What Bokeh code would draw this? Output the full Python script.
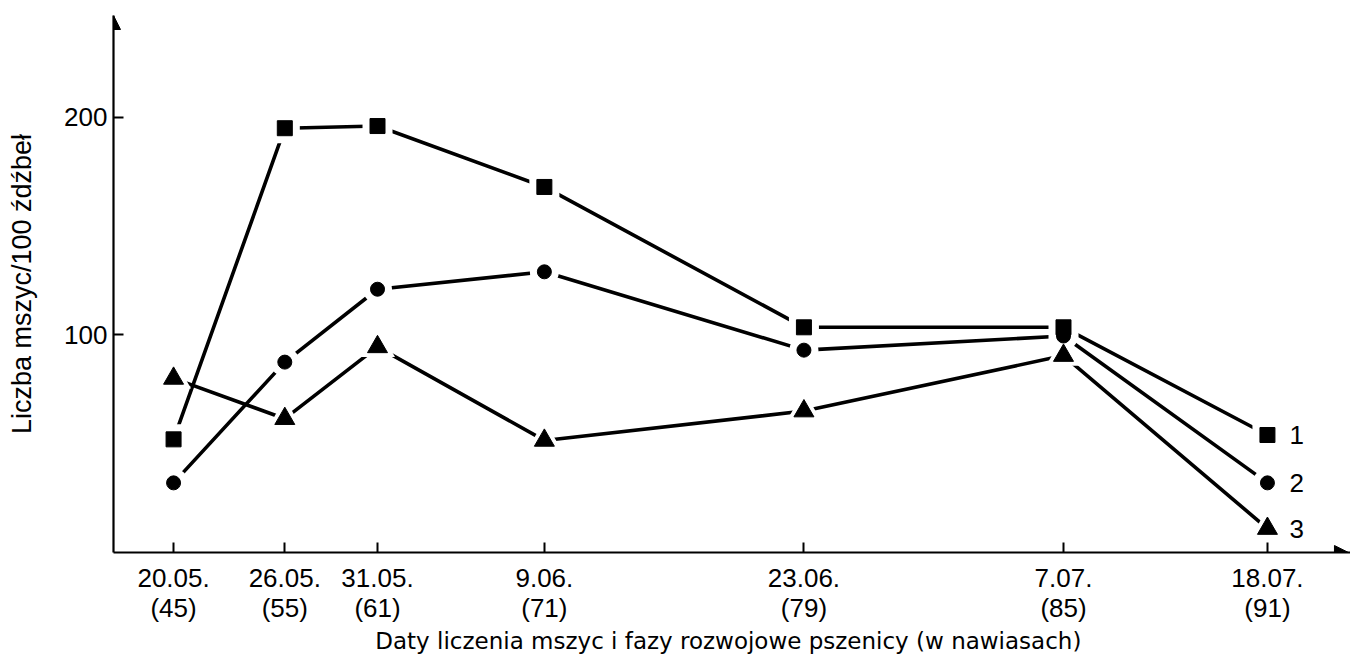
from bokeh.plotting import figure
from bokeh.models import Range1d, FixedTicker, Arrow, NormalHead
from bokeh.core.properties import value
from bokeh.embed import file_html
from bokeh.resources import INLINE

# ---- data ----
dates = ["20.05.", "26.05.", "31.05.", "9.06.", "23.06.", "7.07.", "18.07."]
phases = ["(45)", "(55)", "(61)", "(71)", "(79)", "(85)", "(91)"]
day_offset = [0, 6, 11, 20, 34, 48, 59]          # days after 20.05.
series1 = [52, 195, 196, 168, 103.5, 103.5, 54]   # squares
series2 = [32, 87.5, 121, 129, 93, 99.5, 32]      # circles
series3 = [80, 61.5, 94.5, 51.5, 65, 90.5, 11]    # triangles
series_labels = ["1", "2", "3"]
y_ticks = [100, 200]
x_title = "Daty liczenia  mszyc i fazy rozwojowe pszenicy (w nawiasach)"
y_title = "Liczba mszyc/100 źdźbeł"

FONT = "Liberation Sans"
FS = "26px"

X0, X1 = -3.24, 63.48
Y0, Y1 = 0, 246.8

p = figure(width=1350, height=660,
           x_range=Range1d(X0, X1), y_range=Range1d(Y0, Y1),
           output_backend="svg", toolbar_location=None,
           min_border_left=113, min_border_right=0,
           min_border_top=15, min_border_bottom=108)
p.outline_line_color = None
p.grid.visible = False
p.background_fill_color = "white"
p.border_fill_color = "white"

# axes
p.xaxis.ticker = FixedTicker(ticks=day_offset)
p.xaxis.major_label_overrides = {d: f"{a}\n{b}" for d, a, b in zip(day_offset, dates, phases)}
p.yaxis.ticker = FixedTicker(ticks=y_ticks)
for ax in (p.xaxis[0], p.yaxis[0]):
    ax.axis_line_width = 2.2
    ax.axis_line_color = "black"
    ax.major_tick_in = 10
    ax.major_tick_out = 0
    ax.major_tick_line_width = 2
    ax.major_tick_line_color = "black"
    ax.minor_tick_line_color = None
    ax.major_label_text_font = FONT
    ax.major_label_text_font_size = FS
    ax.major_label_text_color = "black"
    ax.axis_label_text_font_style = "normal"
    ax.axis_label_text_color = "black"
p.xaxis.major_label_text_line_height = 1.0
p.xaxis.major_label_standoff = 10
p.yaxis.major_label_standoff = 6
p.xaxis.axis_label = x_title
p.xaxis.axis_label_text_font = "DejaVu Sans"
p.xaxis.axis_label_text_font_size = "23px"
p.xaxis.axis_label_standoff = 2
p.yaxis.axis_label = y_title
p.yaxis.axis_label_text_font = FONT
p.yaxis.axis_label_text_font_size = "27px"
p.yaxis.axis_label_standoff = 24

# arrow heads on axes
p.add_layout(Arrow(x_start=60, y_start=0, x_end=63.37, y_end=0, line_alpha=0,
                   end=NormalHead(size=14, fill_color="black", line_color="black")))
p.add_layout(Arrow(x_start=X0, y_start=235, x_end=X0, y_end=Y1, line_alpha=0,
                   end=NormalHead(size=14, fill_color="black", line_color="black")))

# series
markers = [("square", series1, 15), ("circle", series2, 14), ("triangle", series3, 20)]
for m, ys, s in markers:
    p.line(day_offset, ys, line_color="black", line_width=3.6)
for m, ys, s in markers:
    p.scatter(day_offset, ys, marker=m, size=s + 15, fill_color="white", line_color=None)
for m, ys, s in markers:
    p.scatter(day_offset, ys, marker=m, size=s, fill_color="black", line_color="black")

p.text(x=[day_offset[-1]] * 3, y=[series1[-1], series2[-1], series3[-1]], text=series_labels,
       x_offset=22, text_baseline="middle", text_align="left",
       text_font=value(FONT), text_font_size=FS, text_color="black")

open("out.html", "w").write(file_html(p, INLINE))
